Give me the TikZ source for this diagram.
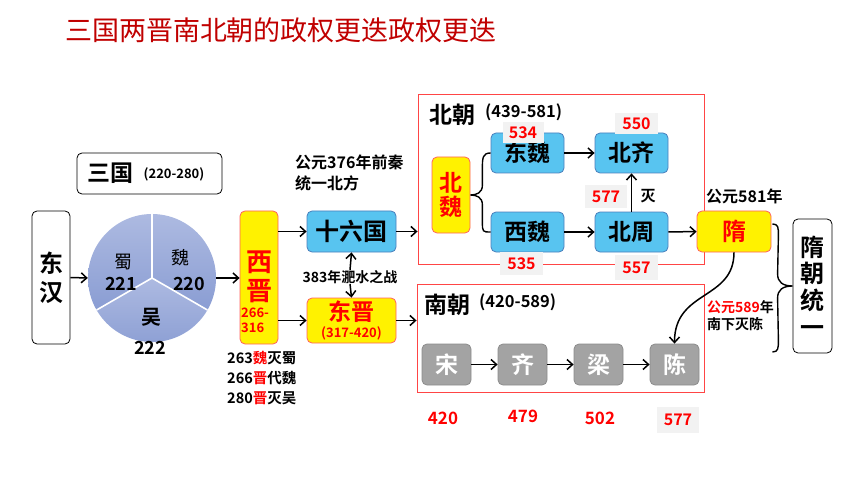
\documentclass[tikz,border=0pt]{standalone}
\usepackage{fontspec}
\setmainfont{Noto Sans CJK SC}[BoldFont={Noto Sans CJK SC Bold}]
\usetikzlibrary{arrows.meta,calc}
\definecolor{tred}{HTML}{C00000}
\definecolor{bluefill}{HTML}{58C4F0}
\definecolor{bluedraw}{HTML}{4A7EBB}
\definecolor{yeldraw}{HTML}{FF6060}
\definecolor{grayfill}{HTML}{A3A3A3}
\definecolor{graydraw}{HTML}{8C8C8C}
\definecolor{framered}{HTML}{FF4545}
\definecolor{lbg}{HTML}{F2F2F2}
\definecolor{pieT}{HTML}{ADBAE1}
\definecolor{pieB}{HTML}{8A9DD3}
\newcommand{\fsz}[2]{\fontsize{#1}{#2}\selectfont}
\begin{document}
\begin{tikzpicture}[x=1pt,y=-1pt,
  rbox/.style={rounded corners=5pt, line width=0.8pt, inner sep=0pt, align=center},
  blackbox/.style={rbox, draw=black, fill=white},
  bluebox/.style={rbox, draw=bluedraw, fill=bluefill, minimum width=73pt, minimum height=40pt, font=\bfseries\fsz{23pt}{23pt}},
  yelbox/.style={rbox, draw=yeldraw, fill=yellow, text=red},
  graybox/.style={rbox, draw=graydraw, fill=grayfill, text=white, minimum width=49pt, minimum height=41pt, font=\bfseries\fsz{23pt}{23pt}},
  frame/.style={draw=framered, line width=0.9pt, inner sep=0pt},
  numlab/.style={fill=lbg, text=red, font=\bfseries\fsz{16pt}{16pt}, inner sep=0pt},
  rednum/.style={text=red, font=\bfseries\fsz{17pt}{17pt}, inner sep=0pt},
  txt/.style={inner sep=0pt},
  arr/.style={-{Straight Barb[length=5.5pt,width=10pt]}, line width=1.5pt},
  brace/.style={line width=1.4pt}
]
\useasboundingbox (0,0) rectangle (860,484);

% title
\node[txt, text=tred, font=\fsz{27pt}{27pt}] (title) at (281,30) {三国两晋南北朝的政权更迭政权更迭};

% left part
\node[blackbox, minimum width=38pt, minimum height=133pt, font=\bfseries\fsz{24pt}{29pt}] (donghan) at (51,277.5) {东\\汉};
\node[blackbox, minimum width=145pt, minimum height=41pt] (sanguo) at (149.5,173.5) {};
\node[txt, font=\bfseries\fsz{23pt}{23pt}] (sgtxt) at (110,173) {三国};
\node[txt, font=\bfseries\fsz{13pt}{13pt}] (sgyr) at (174,174.5) {(220-280)};

% pie
\node[circle, minimum size=128pt, inner sep=0pt] (pie) at (152,278) {};
\foreach \a in {90,210,330}{
  \shade[top color=pieT, bottom color=pieB] (pie.center) -- ++(\a:64pt) arc[start angle=\a, end angle=\a+120, radius=64pt] -- cycle;
}
\foreach \a in {90,210,330}{
  \draw[white, line width=1.6pt] (pie.center) -- ++(\a:64pt);
}
\node[txt, font=\fsz{18pt}{18pt}] (shu) at (123,262) {蜀};
\node[txt, font=\bfseries\fsz{18pt}{18pt}] (shuy) at (121,284) {221};
\node[txt, font=\fsz{18pt}{18pt}] (wei) at (180,258) {魏};
\node[txt, font=\bfseries\fsz{18pt}{18pt}] (weiy) at (189,284) {220};
\node[txt, font=\bfseries\fsz{20pt}{20pt}] (wu) at (151,317) {吴};
\node[txt, font=\bfseries\fsz{18pt}{18pt}] (wuy) at (150,348) {222};

% xijin
\node[yelbox, minimum width=38pt, minimum height=133pt] (xijin) at (259,277.5) {};
\node[txt, text=red, font=\bfseries\fsz{26pt}{29pt}, align=center] (xjtxt) at (259,277) {西\\晋};
\node[txt, text=red, font=\bfseries\fsz{13pt}{15.5pt}, align=left, anchor=west] (xjyr) at (241,320.5) {266-\\316};
\node[txt, font=\bfseries\fsz{14.5pt}{20pt}, align=left, anchor=west] (events) at (227,378) {263{\color{red}魏}灭蜀\\266{\color{red}晋}代魏\\280{\color{red}晋}灭吴};

% middle
\node[bluebox, minimum width=89pt, minimum height=41pt, font=\bfseries\fsz{24pt}{24pt}] (sld) at (351.5,231.5) {十六国};
\node[yelbox, minimum width=89pt, minimum height=45pt, font=\bfseries] (dongjin) at (351.5,320.5) {};
\node[txt, text=red, font=\bfseries\fsz{23pt}{23pt}] (djtxt) at (351.5,312) {东晋};
\node[txt, text=red, font=\bfseries\fsz{13pt}{13pt}] (djyr) at (351.5,333) {(317-420)};
\node[txt, font=\bfseries\fsz{14pt}{14pt}] (l383) at (350,277) {383年淝水之战};
\node[txt, font=\bfseries\fsz{16pt}{21pt}, align=left, anchor=west] (qianqin) at (295,172.5) {公元376年前秦\\统一北方};

% beichao
\node[frame, minimum width=286pt, minimum height=170pt] (beichao) at (561,179) {};
\node[txt, font=\bfseries\fsz{23pt}{23pt}, anchor=west] (bctxt) at (429,115) {北朝};
\node[txt, font=\bfseries\fsz{16.5pt}{16.5pt}, anchor=west] (bcyr) at (485,112) {(439-581)};
\node[yelbox, minimum width=38pt, minimum height=76pt, font=\bfseries\fsz{23pt}{24pt}] (beiwei) at (451,195) {北\\魏};
\node[bluebox] (dongwei) at (527.5,153) {东魏};
\node[bluebox] (beiqi) at (631.5,153) {北齐};
\node[bluebox] (xiwei) at (527.5,232) {西魏};
\node[bluebox] (beizhou) at (631.5,232) {北周};
\node[txt, font=\bfseries\fsz{15pt}{15pt}] (mie) at (648,196) {灭};

% nanchao
\node[frame, minimum width=287pt, minimum height=108pt] (nanchao) at (560.5,338) {};
\node[txt, font=\bfseries\fsz{23pt}{23pt}, anchor=west] (nctxt) at (424,305) {南朝};
\node[txt, font=\bfseries\fsz{16.5pt}{16.5pt}, anchor=west] (ncyr) at (479,302) {(420-589)};
\node[graybox] (song) at (446.5,364.5) {宋};
\node[graybox] (qi) at (522.5,364.5) {齐};
\node[graybox] (liang) at (598.5,364.5) {梁};
\node[graybox] (chen) at (674.5,364.5) {陈};

% sui
\node[yelbox, minimum width=74pt, minimum height=41pt, font=\bfseries\fsz{24pt}{24pt}] (sui) at (734,231.5) {隋};
\node[txt, font=\bfseries\fsz{16pt}{16pt}, anchor=west] (y581) at (706,196) {公元581年};
\node[txt, font=\bfseries\fsz{14pt}{17pt}, align=left, anchor=west] (y589) at (707,315.5) {{\color{red}公元589}年\\南下灭陈};
\node[blackbox, minimum width=39pt, minimum height=134pt, font=\bfseries\fsz{24pt}{26.7pt}] (suity) at (812.5,286) {隋\\朝\\统\\一};

% year labels
\node[numlab, minimum width=41pt, minimum height=21pt] (l534) at (523,132.5) {534};
\node[numlab, minimum width=43pt, minimum height=21pt] (l550) at (636.5,123.5) {550};
\node[numlab, minimum width=42pt, minimum height=23pt] (l577a) at (606,196.5) {577};
\node[numlab, minimum width=43pt, minimum height=23pt] (l535) at (521.5,263.5) {535};
\node[numlab, minimum width=43pt, minimum height=25pt] (l557) at (636.5,267.5) {557};
\node[numlab, minimum width=42pt, minimum height=26pt] (l577b) at (678,420) {577};
\node[rednum] (n420) at (443,418) {420};
\node[rednum] (n479) at (523,416) {479};
\node[rednum] (n502) at (600,418) {502};

% connectors
\draw[arr] (donghan.east) -- (pie.west);
\draw[arr] (pie.east) -- (pie.east -| xijin.west);
\draw[arr] (xijin.east |- sld.west) -- (sld.west);
\draw[arr] (xijin.east |- dongjin.west) -- (dongjin.west);
\draw[arr] (l383.north) -- (sld.south);
\draw[arr] (l383.south) -- (dongjin.north);
\draw[arr] (sld.east) -- (sld.east -| beichao.west);
\draw[arr] (dongjin.east) -- (dongjin.east -| nanchao.west);
\draw[arr] (dongwei) -- (beiqi);
\draw[arr] (xiwei) -- (beizhou);
\draw[arr] (beizhou) -- (beiqi);
\draw[arr] (beizhou) -- (sui);
\draw[arr] (song) -- (qi);
\draw[arr] (qi) -- (liang);
\draw[arr] (liang) -- (chen);
\draw[arr] (sui.south) .. controls +(0,48) and +(0,-54) .. (chen.north);

% braces
\draw[brace] (dongwei.west) .. controls +(-8,0) and +(0,-10) .. ($(beiwei.east)+(12,-27)$)
  -- ($(beiwei.east)+(12,-10)$) .. controls +(0,8) and +(6,0) .. (beiwei.east)
  .. controls +(6,0) and +(0,-8) .. ($(beiwei.east)+(12,10)$)
  -- ($(beiwei.east)+(12,27)$) .. controls +(0,10) and +(-8,0) .. (xiwei.west);
\coordinate (bend) at ($(sui.east)+(1,120.5)$);
\draw[brace] ($(sui.east)+(1,-7.5)$) .. controls +(6,0) and +(0,-8) .. ($(sui.east)+(7,4)$)
  -- ($(suity.west)+(-15,-12)$) .. controls +(0,8) and +(-10,0) .. (suity.west)
  .. controls +(-10,0) and +(0,-8) .. ($(suity.west)+(-15,12)$)
  -- ($(bend)+(6,-12)$) .. controls +(0,8) and +(6,0) .. (bend);
\end{tikzpicture}
\end{document}
